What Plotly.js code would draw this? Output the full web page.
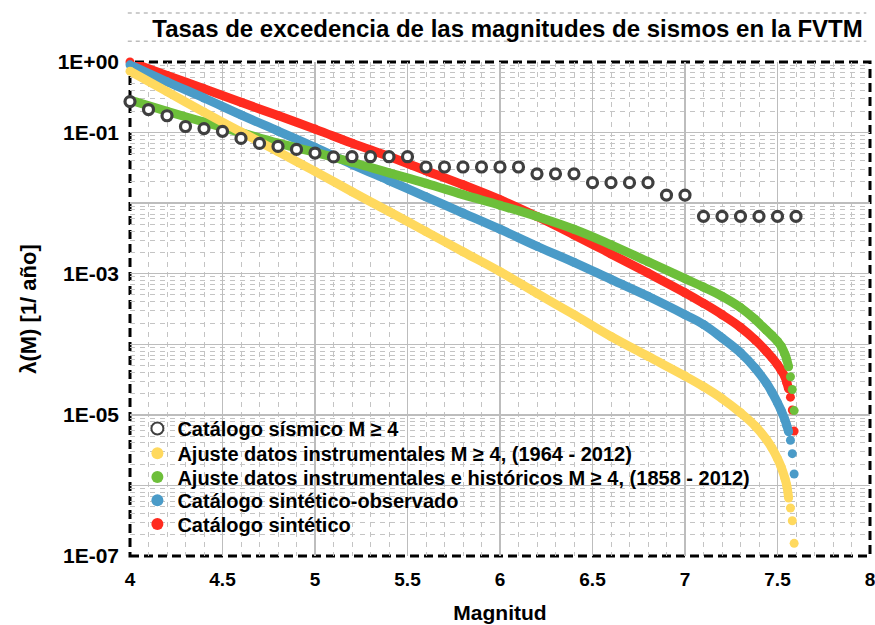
<!DOCTYPE html>
<html>
<head>
<meta charset="utf-8">
<script src="https://cdn.plot.ly/plotly-3.0.1.min.js"></script>
<style>html,body{margin:0;padding:0;background:#fff;}#chart{width:875px;height:625px;}</style>
</head>
<body>
<div id="chart"></div>
<script>
// ---- Data ----
const catalogM = [4.0,4.1,4.2,4.3,4.4,4.5,4.6,4.7,4.8,4.9,5.0,5.1,5.2,5.3,5.4,5.5,5.6,5.7,5.8,5.9,6.0,6.1,6.2,6.3,6.4,6.5,6.6,6.7,6.8,6.9,7.0,7.1,7.2,7.3,7.4,7.5,7.6];
const catalogRate = [0.275,0.212,0.173,0.122,0.114,0.104,0.0826,0.0702,0.0636,0.0577,0.0513,0.0452,0.0455,0.0455,0.0455,0.0455,0.0325,0.0325,0.0325,0.0325,0.0325,0.0325,0.026,0.026,0.026,0.0195,0.0195,0.0195,0.0195,0.013,0.013,0.0065,0.0065,0.0065,0.0065,0.0065,0.0065];

const curveM = [4.0,4.2,4.4,4.6,4.8,5.0,5.2,5.4,5.6,5.8,6.0,6.2,6.4,6.6,6.8,7.0,7.1,7.2,7.3,7.38,7.44,7.47,7.5,7.52,7.54,7.55,7.56,7.57,7.58,7.59];
const instrumentalRate = [0.741,0.380,0.195,0.102,0.0537,0.0282,0.0145,0.00760,0.00395,0.00205,0.00107,0.000525,0.000263,0.000129,6.76e-5,3.55e-5,2.51e-5,1.70e-5,1.07e-5,6.92e-6,4.47e-6,3.39e-6,2.40e-6,1.82e-6,1.26e-6,1.00e-6,6.61e-7,4.79e-7,3.16e-7,1.51e-7];
const historicRate = [0.288,0.200,0.141,0.100,0.0708,0.0525,0.0380,0.0269,0.0191,0.0132,0.00933,0.00646,0.00427,0.00257,0.00148,0.000851,0.000646,0.000479,0.000331,0.000224,0.000158,0.000133,0.000110,9.33e-5,7.24e-5,6.03e-5,4.79e-5,3.47e-5,2.29e-5,1.15e-5];
const synthObsRate = [0.912,0.525,0.309,0.178,0.105,0.0617,0.0355,0.0209,0.0123,0.00724,0.00427,0.00245,0.00145,0.000832,0.000479,0.000263,0.000191,0.000123,7.59e-5,4.57e-5,2.82e-5,2.09e-5,1.48e-5,1.15e-5,8.51e-6,7.08e-6,5.75e-6,4.37e-6,2.82e-6,1.45e-6];
const synthRate = [1.0,0.646,0.417,0.269,0.174,0.112,0.0708,0.0457,0.0288,0.0182,0.0112,0.00646,0.00355,0.00191,0.00102,0.000537,0.000380,0.000263,0.000174,0.000115,7.94e-5,6.46e-5,5.13e-5,4.27e-5,3.47e-5,2.88e-5,2.34e-5,1.78e-5,1.17e-5,5.89e-6];

const seriesNames = [
  "Catálogo sísmico M ≥ 4",
  "Ajuste datos instrumentales M ≥ 4, (1964 - 2012)",
  "Ajuste datos instrumentales e históricos M ≥ 4, (1858 - 2012)",
  "Catálogo sintético-observado",
  "Catálogo sintético"
];
const yTickVals = [1,0.1,0.01,0.001,1e-4,1e-5,1e-6,1e-7];
const yTickText = ["1E+00","1E-01","","1E-03","","1E-05","","1E-07"];

// ---- Styling ----
const FONT = "Liberation Sans, Arial, sans-serif";
const colors = {yellow:"#ffd95e", green:"#6dbf3a", blue:"#4a9bc8", red:"#ff2b1f", circle:"#3f3f3f"};
const BAND = 9;   // band width (px)
const tailStart = curveM.indexOf(7.57); // last dots drawn separately
const legendIds = ["legend", "legend2", "legend3", "legend4", "legend5"];
const legendRowY = [0.258, 0.208, 0.160, 0.113, 0.065]; // paper y of each legend row

function curveTraces(y, color, idx) {
  return [
    {x: curveM.slice(0, tailStart), y: y.slice(0, tailStart), mode: "lines", type: "scatter",
     line: {color: color, width: BAND, shape: "spline", smoothing: 1.2}, showlegend: false, hoverinfo: "skip", cliponaxis: false},
    {x: curveM, y: y, mode: "markers", type: "scatter", name: seriesNames[idx], legend: legendIds[idx],
     marker: {color: color, size: BAND}, cliponaxis: false}
  ];
}

const data = [].concat(
  curveTraces(synthRate, colors.red, 4),
  curveTraces(synthObsRate, colors.blue, 3),
  curveTraces(historicRate, colors.green, 2),
  curveTraces(instrumentalRate, colors.yellow, 1),
  [{x: catalogM, y: catalogRate, mode: "markers", type: "scatter", name: seriesNames[0], legend: legendIds[0],
    marker: {symbol: "circle", size: 10, color: "#ffffff", line: {color: colors.circle, width: 3.2}},
    cliponaxis: false}]
);

const gridMajor = "#bdbdbd";
const gridMinor = "#c4c4c4";

const layout = {
  width: 875, height: 625,
  margin: {l: 130, r: 5, t: 62, b: 69, pad: 0},
  paper_bgcolor: "#ffffff", plot_bgcolor: "#ffffff",
  font: {family: FONT, size: 16, color: "#000", weight: "bold"},
  title: {text: "Tasas de excedencia de las magnitudes de sismos en la FVTM",
          font: {family: FONT, size: 24, color: "#000", weight: "bold"},
          x: 0.58, xanchor: "center", y: 0.955, yanchor: "middle"},
  xaxis: {
    range: [4, 8], dtick: 0.5, tick0: 4, ticks: "", showline: false, zeroline: false,
    showgrid: true, gridcolor: gridMajor, gridwidth: 1.5, ticklabeloverflow: "allow",
    minor: {dtick: 0.1, showgrid: true, gridcolor: gridMinor, griddash: "5px,5px", gridwidth: 1},
    tickfont: {family: FONT, size: 19, weight: "bold"}, ticklabelstandoff: 10,
    title: {text: "Magnitud", font: {family: FONT, size: 21, weight: "bold"}, standoff: 16}
  },
  yaxis: {
    type: "log", range: [-7, 0], tickmode: "array", tickvals: yTickVals, ticktext: yTickText,
    ticks: "", showline: false, zeroline: false,
    showgrid: true, gridcolor: gridMajor, gridwidth: 1.5,
    minor: {dtick: "D1", showgrid: true, gridcolor: gridMinor, griddash: "5px,5px", gridwidth: 1},
    tickfont: {family: FONT, size: 21, weight: "bold"}, ticklabelstandoff: 10,
    title: {text: "λ(M) [1/ año]", font: {family: FONT, size: 22, weight: "bold"}, standoff: 14}
  },
  shapes: [
    {type: "rect", xref: "paper", yref: "paper", x0: 0, x1: 1, y0: 0, y1: 1,
     line: {color: "#000", width: 3, dash: "9px,5px"}, layer: "between"},
    {type: "line", xref: "paper", yref: "paper", x0: -0.003, x1: 0.995, y0: 1.099, y1: 1.099,
     line: {color: "#bdbdbd", width: 1.5, dash: "4px,4px"}, layer: "below"},
    {type: "line", xref: "paper", yref: "paper", x0: -0.003, x1: 0.995, y0: 1.042, y1: 1.042,
     line: {color: "#bdbdbd", width: 1.5, dash: "4px,4px"}, layer: "below"}
  ],
  showlegend: true
};

legendIds.forEach(function (id, i) {
  layout[id] = {
    x: 0.01, xanchor: "left", y: legendRowY[i], yanchor: "middle",
    bgcolor: "rgba(0,0,0,0)", borderwidth: 0,
    font: {family: FONT, size: 20, weight: "bold", color: "#000"},
    itemsizing: "constant"
  };
});

Plotly.newPlot("chart", data, layout, {displayModeBar: false, staticPlot: true});
</script>
</body>
</html>
